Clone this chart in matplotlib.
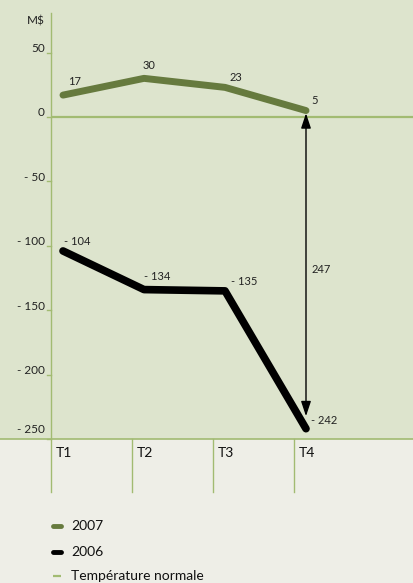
import matplotlib
matplotlib.use("Agg")
import matplotlib.pyplot as plt
from matplotlib.lines import Line2D

plt.rcParams['font.family'] = ['Lato', 'DejaVu Sans']

quarters = ["T1", "T2", "T3", "T4"]
v2007 = [17, 30, 23, 5]
v2006 = [-104, -134, -135, -242]
yticks = [50, 0, -50, -100, -150, -200, -250]
ytick_labels = ["50", "0", "- 50", "- 100", "- 150", "- 200", "- 250"]
labels2007 = ["17", "30", "23", "5"]
labels2006 = ["- 104", "- 134", "- 135", "- 242"]
gap_label = "247"
legend_labels = ["2007", "2006", "Température normale"]

W, H = 413, 583
BG_GREEN = "#dde4cd"
BG_WHITE = "#eeeee7"
AXIS_GREEN = "#a2bb72"
C2007 = "#667a3e"
C2006 = "#000000"

fig = plt.figure(figsize=(W / 100, H / 100), dpi=100)
fig.patch.set_facecolor(BG_WHITE)
green_h = 439
ax = fig.add_axes([0, (H - green_h) / H, 1, green_h / H])
ax.set_facecolor(BG_GREEN)
for s in ax.spines.values():
    s.set_visible(False)
ax.set_xticks([])
ax.set_yticks([])

# scales: x px 63 -> 0, 81 px per unit ; y px 117 -> 0, 1.288 px/unit
px_per_x = 81.0
x0px = 63.0
ppy = 1.288
ax.set_xlim(-x0px / px_per_x, (W - x0px) / px_per_x)
ax.set_ylim(-250, 117 / ppy)

def xpx(p):
    return (p - x0px) / px_per_x

xs = list(range(len(quarters)))

# y axis spine (extends below plot area)
ax.plot([xpx(51), xpx(51)], [80.5, -250 - 53 / ppy], color=AXIS_GREEN, lw=1.0, clip_on=False, zorder=2)
# ticks and tick labels
for v, lab in zip(yticks, ytick_labels):
    ax.plot([xpx(47), xpx(51)], [v, v], color=AXIS_GREEN, lw=1.0, clip_on=False, zorder=2)
    yv = v if v != -250 else -245.5
    ax.text(xpx(45), yv + 0.5, lab, ha='right', va='baseline', fontsize=8.5, color="#222222")
ax.text(xpx(45), 72, "M$", ha='right', va='baseline', fontsize=8.5, color="#222222")

# zero (normal temperature) line
ax.plot([xpx(51), xpx(W)], [0, 0], color=AXIS_GREEN, lw=1.6, zorder=2, solid_capstyle='butt')
# bottom border
ax.plot([xpx(0), xpx(W)], [-250, -250], color=AXIS_GREEN, lw=1.2, clip_on=False, zorder=2)

# column separators and quarter labels
for i, q in enumerate(quarters):
    xc = i - 12 / px_per_x
    if i > 0:
        ax.plot([xc, xc], [-250, -250 - 53 / ppy], color=AXIS_GREEN, lw=1.0, clip_on=False, zorder=2)
    ax.text(xc + 5 / px_per_x, -250 - 14 / ppy, q, ha='left', va='center', fontsize=10, color="#111111", clip_on=False)

# series
ax.plot(xs, v2007, color=C2007, lw=5.0, solid_capstyle='round', solid_joinstyle='round', zorder=4)
ax.plot(xs, v2006, color=C2006, lw=5.5, solid_capstyle='round', solid_joinstyle='round', zorder=4)

# data labels (pixel offsets)
off2007 = [(12, 14), (5, 13), (11, 10), (9, 10)]
for x, v, lab, (dx, dy) in zip(xs, v2007, labels2007, off2007):
    ax.text(x + dx / px_per_x, v + dy / ppy, lab, ha='center', va='center', fontsize=8, color="#222222")
off2006 = [(14, 9), (13, 13), (19, 9), (18, 8)]
for x, v, lab, (dx, dy) in zip(xs, v2006, labels2006, off2006):
    ax.text(x + dx / px_per_x, v + dy / ppy, lab, ha='center', va='center', fontsize=8, color="#222222")

# double arrow showing the gap
ax.annotate("", xy=(xs[3], v2007[3]), xytext=(xs[3], v2006[3]),
            arrowprops=dict(arrowstyle="<|-|>,head_length=0.9,head_width=0.3", color="black", lw=1.0,
                            shrinkA=9, shrinkB=2), zorder=5)
ax.text(xs[3] + 6 / px_per_x, (v2007[3] + v2006[3]) / 2, gap_label, ha='left', va='center', fontsize=8, color="#222222")

# legend (manual)
leg_y = [526, 552, 576]
leg_colors = [C2007, C2006, AXIS_GREEN]
leg_lw = [3.5, 3.5, 1.6]
for y, c, lw, lab in zip(leg_y, leg_colors, leg_lw, legend_labels):
    fy = (H - y) / H
    fig.add_artist(Line2D([53 / W, 61 / W], [fy, fy], color=c, lw=lw, solid_capstyle='round' if lw > 2 else 'butt'))
    fig.text(71 / W, fy, lab, ha='left', va='center', fontsize=10, color="#111111")

fig.savefig("out.png", dpi=100, facecolor=fig.get_facecolor())
